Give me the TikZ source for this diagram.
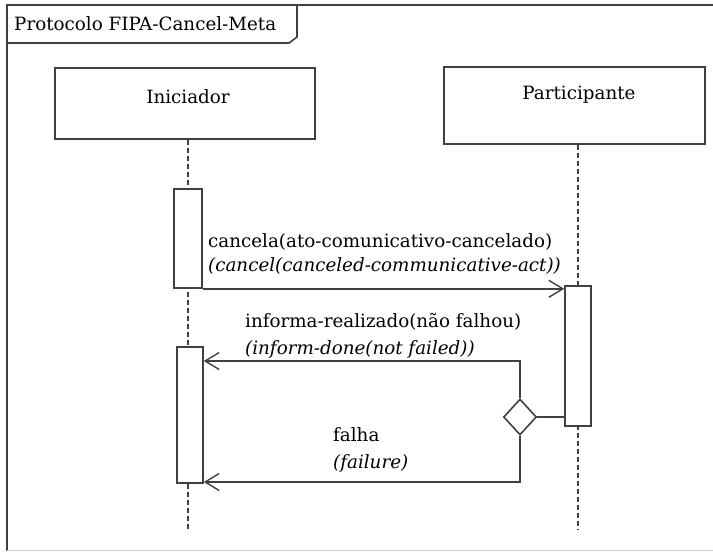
\documentclass[tikz,border=0pt]{standalone}
\usepackage{fontspec}
\setmainfont{DejaVu Serif}
\usetikzlibrary{arrows.meta,shapes.geometric,calc}
\tikzset{
  line/.style={draw=black!75, line width=1.6pt},
  lifebox/.style={line, fill=white, rectangle, inner sep=0pt},
  act/.style={line, fill=white, rectangle, inner sep=0pt, minimum width=27pt},
  life/.style={draw=black!75, line width=1.6pt, dash pattern=on 5pt off 3pt},
  msg/.style={line, -{Straight Barb[length=14pt,width=17pt,line width=1.4pt]}},
  txt/.style={inner sep=0pt, font=\fontsize{18.3}{20}\selectfont},
  lbl/.style={txt, anchor=west},
  ilbl/.style={txt, anchor=west, font=\fontsize{18.3}{20}\selectfont\itshape},
  choice/.style={line, fill=white, diamond, inner sep=0pt, minimum width=33pt, minimum height=36pt}
}
\begin{document}
\begin{tikzpicture}[x=1pt,y=-1pt]
\useasboundingbox (0,0) rectangle (713,552);
% outer frame and its name tab
\draw[line] (713,5) -- (7,5) -- (7,550.5);
\draw[draw=black!20, line width=1.6pt] (7,550.5) -- (713,550.5);
\draw[line] (297,5) -- (297,37) -- (289,43) -- (7,43);
\node[txt, anchor=west] (title) at (14,24) {Protocolo FIPA-Cancel-Meta};

% lifeline heads
\node[lifebox, minimum width=260pt, minimum height=71pt] (ini) at (185,103.5) {};
\node[txt] (iniName) at (188,97) {Iniciador};
\node[lifebox, minimum width=261pt, minimum height=77pt] (par) at (574.5,105.5) {};
\node[txt] (parName) at (579,95) {Participante};

% lifelines
\coordinate (iniEnd) at (188,529);
\coordinate (parEnd) at (578,529);
\draw[life] (ini.south -| iniEnd) -- (iniEnd);
\draw[life] (par.south -| parEnd) -- (parEnd);

% activation bars
\node[act, minimum width=28pt, minimum height=99pt] (act1) at (188,238.5) {};
\node[act, minimum width=26pt, minimum height=140pt] (act2) at (578,356) {};
\node[act, minimum width=26pt, minimum height=136pt] (act3) at (190,415) {};

% cancel request
\draw[msg] (act1.south east) -- (act1.south east -| act2.west);
\node[lbl] (m1a) at (208,242) {cancela(ato-comunicativo-cancelado)};
\node[ilbl] (m1b) at (208,266) {(cancel(canceled-communicative-act))};

% reply choice
\node[choice] (dec) at (520,417) {};
\draw[line] (dec.east) -- (dec.east -| act2.west);
\coordinate (okStart) at (520,361);
\coordinate (failTurn) at (520,482);
\draw[msg] (dec.north) -- (okStart) -- (okStart -| act3.east);
\draw[msg] (dec.south) -- (failTurn) -- (failTurn -| act3.east);
\node[lbl] (m2a) at (245,322) {informa-realizado(não falhou)};
\node[ilbl] (m2b) at (245,349) {(inform-done(not failed))};
\node[lbl] (m3a) at (333,435) {falha};
\node[ilbl] (m3b) at (333,463) {(failure)};
\end{tikzpicture}
\end{document}
